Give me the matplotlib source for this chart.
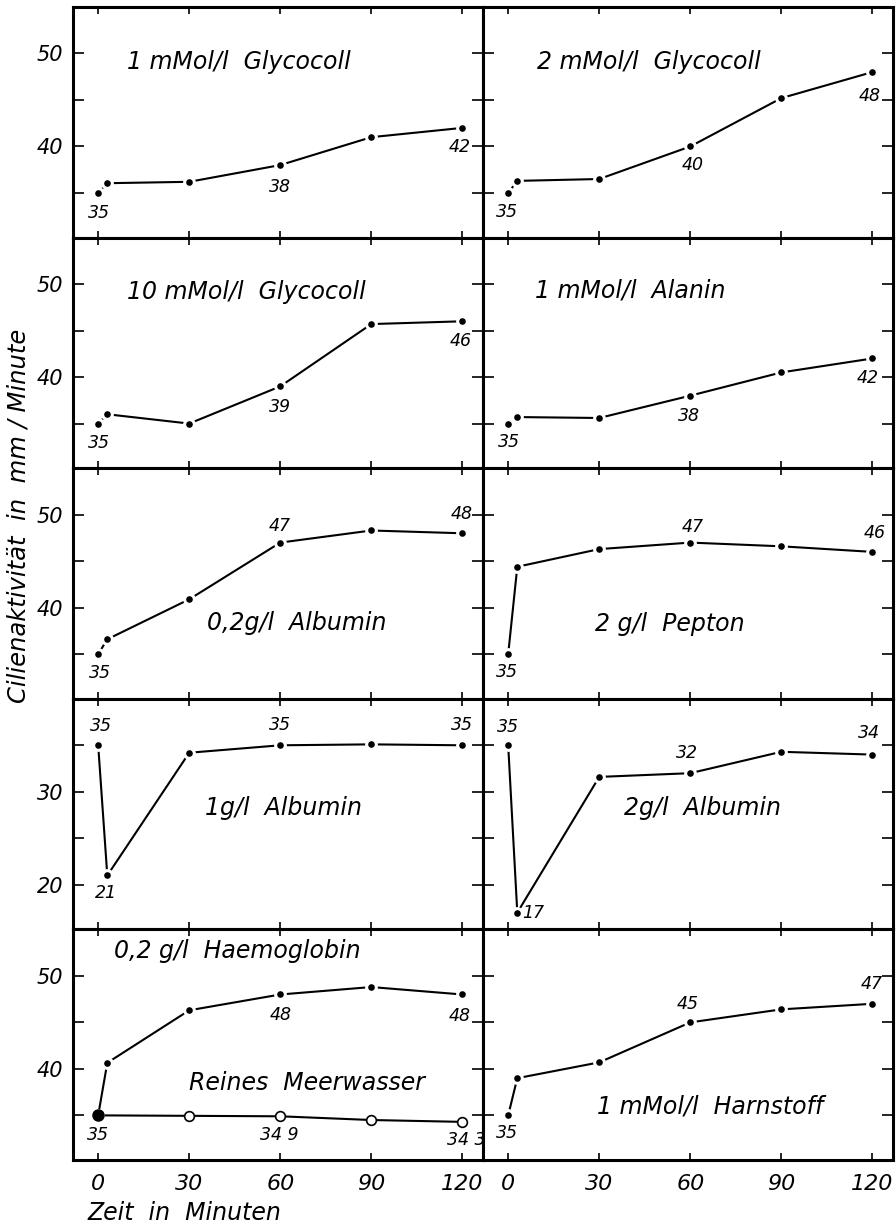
import matplotlib
matplotlib.use("Agg")
import matplotlib.pyplot as plt

plt.rcParams['font.family'] = ['DejaVu Sans']
plt.rcParams['font.style'] = 'italic'

# sampling times in minutes
t = [0, 3, 30, 60, 90, 120]
t_sea = [0, 30, 60, 90, 120]

glyc1 = [35, 36.05, 36.2, 38, 41.0, 42]
glyc2 = [35, 36.3, 36.5, 40, 45.2, 48]
glyc10 = [35, 36.0, 35.0, 39, 45.7, 46]
alanin = [35, 35.7, 35.6, 38, 40.5, 42]
alb02 = [35, 36.6, 40.9, 47, 48.3, 48]
pepton = [35, 44.4, 46.3, 47, 46.6, 46]
alb1 = [35, 21, 34.2, 35, 35.1, 35]
alb2 = [35, 17, 31.6, 32, 34.3, 34]
haemo = [35, 40.65, 46.3, 48, 48.8, 48]
sea = [35, 34.95, 34.9, 34.5, 34.3]
harn = [35, 39.0, 40.7, 45, 46.4, 47]

# (title, values, title position, labelled points as (index, text, dx, dy) in pixels)
panels = [
    ("1 mMol/l  Glycocoll", glyc1, (9.5, 49.1),
     [(0, "35", 1, -20), (3, "38", 0, -22), (5, "42", -3, -19)]),
    ("2 mMol/l  Glycocoll", glyc2, (9.5, 49.1),
     [(0, "35", -1, -19), (3, "40", 2, -19), (5, "48", -3, -24)]),
    ("10 mMol/l  Glycocoll", glyc10, (9.5, 49.2),
     [(0, "35", 1, -19), (3, "39", 0, -21), (5, "46", -2, -20)]),
    ("1 mMol/l  Alanin", alanin, (8.9, 49.3),
     [(0, "35", 1, -18), (3, "38", -1, -20), (5, "42", -5, -20)]),
    ("0,2g/l  Albumin", alb02, (35.9, 38.3),
     [(0, "35", 2, -19), (3, "47", -1, 17), (5, "48", -1, 19)]),
    ("2 g/l  Pepton", pepton, (28.6, 38.2),
     [(0, "35", -1, -18), (3, "47", 2, 16), (5, "46", 2, 19)]),
    ("1g/l  Albumin", alb1, (35.2, 28.3),
     [(0, "35", 3, 19), (1, "21", -1, -18), (3, "35", 0, 20), (5, "35", 0, 20)]),
    ("2g/l  Albumin", alb2, (38.2, 28.3),
     [(0, "35", 0, 18), (1, "17", 16, 0), (3, "32", -3, 20), (5, "34", -3, 22)]),
    ("0,2 g/l  Haemoglobin", haemo, (5.3, 52.7),
     [(0, "35", 0, -20), (3, "48", 0, -21), (5, "48", -3, -22)]),
    ("1 mMol/l  Harnstoff", harn, (29.3, 35.9),
     [(0, "35", -1, -18), (3, "45", -3, 18), (5, "47", -1, 20)]),
]

fig, axes = plt.subplots(5, 2, figsize=(8.96, 12.27), dpi=100)
fig.subplots_adjust(left=73/896, right=893/896, top=1-7/1227,
                    bottom=1-1160/1227, wspace=0, hspace=0)

dot = dict(color='black', lw=1.5, marker='o', ms=7, mfc='black',
           mec='white', mew=2.2, solid_capstyle='butt')

for k, ax in enumerate(axes.flat):
    row, col = divmod(k, 2)
    title, vals, (tx, ty), labels = panels[k]
    low = 15 if row == 3 else 30
    ax.set_xlim(-8.3, 126.8)
    ax.set_ylim(low + 0.2, low + 25)

    ax.plot(t, vals, **dot, zorder=3)
    for i, s, dx, dy in labels:
        ax.annotate(s, (t[i], vals[i]), xytext=(dx, dy), textcoords='offset pixels',
                    ha='center', va='center', fontsize=12.5)

    if row == 4 and col == 0:
        ax.plot(t_sea, sea, color='black', lw=1.5, zorder=2)
        ax.plot(t_sea[1:], sea[1:], ls='none', marker='o', ms=7, mfc='white',
                mec='black', mew=1.2, zorder=4)
        ax.plot(t_sea[0], sea[0], ls='none', marker='o', ms=8, mfc='black',
                mec='black', zorder=5)
        ax.annotate("34 9", (t_sea[2], sea[2]), xytext=(-1, -19),
                    textcoords='offset pixels', ha='center', va='center', fontsize=12.5)
        ax.annotate("34 3", (t_sea[4], sea[4]), xytext=(4, -18),
                    textcoords='offset pixels', ha='center', va='center', fontsize=12.5)
        ax.text(30, 38.5, "Reines  Meerwasser", ha='left', va='center', fontsize=17)

    ax.text(tx, ty, title, ha='left', va='center', fontsize=17)

    yt = [low + 5, low + 10, low + 15, low + 20]
    ax.set_yticks(yt)
    ax.set_xticks([0, 30, 60, 90, 120])
    if col == 0:
        ax.set_yticklabels([str(v) if v % 10 == 0 else '' for v in yt])
    else:
        ax.set_yticklabels([])
    if row == 4:
        ax.set_xticklabels(['0', '30', '60', '90', '120'])
    else:
        ax.set_xticklabels([])

    ax.tick_params(axis='y', direction='in', length=8, width=1.2, left=True,
                   right=True, labelsize=15, pad=7)
    ax.tick_params(axis='x', direction='in', length=5, width=1.2, top=True,
                   bottom=True, labelsize=16, pad=10)
    for sp in ax.spines.values():
        sp.set_linewidth(2.2)

fig.text(19/896, 1-516/1227, "Cilienaktivität  in  mm / Minute", rotation=90,
         ha='center', va='center', fontsize=17.5)
fig.text(88/896, 1-1213/1227, "Zeit  in  Minuten", ha='left', va='center', fontsize=17)

fig.savefig("out.png", dpi=100)
